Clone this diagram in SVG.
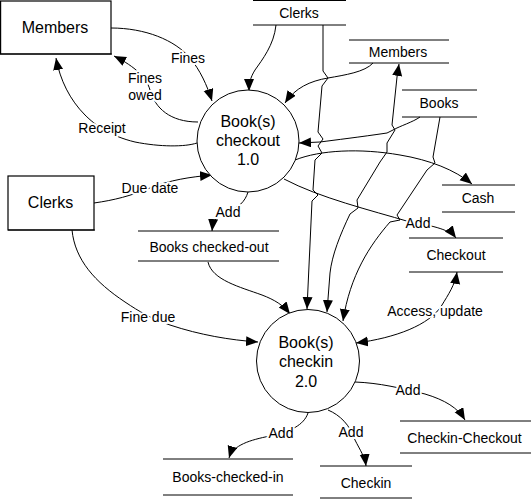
<svg xmlns="http://www.w3.org/2000/svg" width="532" height="499" viewBox="0 0 532 499">
<style>
text{font-family:"Liberation Sans",Arial,sans-serif;fill:#000;text-anchor:middle}
.n{font-size:16px}
.s{font-size:14px}
.l{font-size:14px;stroke:#fff;stroke-width:4;paint-order:stroke;stroke-linejoin:round}
.box{fill:#fff;stroke:#000;stroke-width:1.2}
.circ{fill:#fff;stroke:#000;stroke-width:1}
.st{stroke:#000;stroke-width:1}
.c{fill:none;stroke:#000;stroke-width:1}
.a{marker-end:url(#ah)}
.b{marker-start:url(#ah);marker-end:url(#ah)}
</style>
<defs>
<marker id="ah" markerUnits="userSpaceOnUse" markerWidth="13" markerHeight="11" refX="12" refY="5" orient="auto-start-reverse">
<path d="M0,0 L12,5 L0,10 z" fill="#000"/>
</marker>
</defs>
<g id="connectors">
<path class="c a" d="M111,28 C145,28 175,40 190,58 C200,70 207,85 212,101"/>
<path class="c a" d="M198,122 C170,122 155,108 150,90 C146,75 130,64 114,56"/>
<path class="c a" d="M197,143 C185,147 160,147 135,142 C110,136 95,125 85,115 C70,100 60,80 56,58"/>
<path class="c a" d="M94,203 C115,200 130,196 150,188 C170,180 190,177 212,175"/>
<path class="c a" d="M248,192 C245,202 238,208 228,211 C218,214 213,220 212,231"/>
<path class="c a" d="M208,262 C212,280 240,287 262,295 C275,300 283,305 290,314"/>
<path class="c a" d="M72,230 C75,260 95,282 125,302 C140,312 150,318 170,325 C200,335 230,340 258,342"/>
<path class="c a" d="M276,25 C274,45 262,60 255,70 C250,78 249,84 249,91"/>
<path class="c a" d="M323,25 L323,71 L328,78 L322,86 L318,132 L323,139 L318,146 L322,153 L315,160 L313,190 L318,195 L312,201 L307,309"/>
<path class="c a" d="M373,63 C365,72 345,75 328,78 C310,81 295,88 285,103"/>
<path class="c a" d="M420,117 C413,122 400,126 393,130 L387,133 C360,137 335,140 320,142 L299,143"/>
<path class="c a" d="M295,160 C320,150 360,148 400,155 C430,160 455,170 472,184"/>
<path class="c a" d="M284,179 C320,198 370,210 410,222 C435,226 450,230 456,238"/>
<path class="c b" d="M399,64 L397,77 L392,125 L395,130 L387,143 L387,152 L380,162 L357,200 L358,208 L350,214 C340,235 332,255 330,273 L327,312"/>
<path class="c a" d="M440,117 L433,157 L435,163 L427,170 L407,200 L397,215 L400,220 L390,222 C370,245 350,275 343,321"/>
<path class="c b" d="M457,272 C455,285 448,295 442,305 C430,325 395,338 356,343"/>
<path class="c a" d="M355,382 C380,383 400,388 425,394 C445,400 458,408 465,420"/>
<path class="c a" d="M308,413 C304,425 290,432 270,436 C250,440 233,445 229,458"/>
<path class="c a" d="M328,410 C340,415 350,425 355,440 C360,450 365,457 366,466"/>
<text class="l" x="188" y="63">Fines</text>
<text class="l" x="145" y="83">Fines</text>
<text class="l" x="145" y="100">owed</text>
<text class="l" x="102" y="133">Receipt</text>
<text class="l" x="150" y="193">Due date</text>
<text class="l" x="228" y="217">Add</text>
<text class="l" x="148" y="322">Fine due</text>
<text class="l" x="418" y="228">Add</text>
<text class="l" x="435" y="316">Access, update</text>
<text class="l" x="408" y="395">Add</text>
<text class="l" x="281" y="438">Add</text>
<text class="l" x="351" y="437">Add</text>
</g>
<g id="members-entity">
<rect class="box" x="0.6" y="1" width="110.4" height="53"/>
<line class="st" x1="0" y1="54" x2="112" y2="54" stroke-width="2"/>
<text class="n" x="55" y="33">Members</text>
</g>
<g id="clerks-entity">
<rect class="box" x="8" y="176" width="86" height="54"/>
<line class="st" x1="8" y1="230" x2="95" y2="230" stroke-width="2"/>
<text class="n" x="50.5" y="208">Clerks</text>
</g>
<g id="checkout-process">
<circle class="circ" cx="248" cy="141" r="51"/>
<text class="n" x="248" y="127">Book(s)</text>
<text class="n" x="248" y="146">checkout</text>
<text class="n" x="248" y="165">1.0</text>
</g>
<g id="checkin-process">
<circle class="circ" cx="308" cy="361" r="51.5"/>
<text class="n" x="306" y="348">Book(s)</text>
<text class="n" x="306" y="367">checkin</text>
<text class="n" x="306" y="387">2.0</text>
</g>
<g id="store-clerks">
<line class="st" x1="253" y1="0.5" x2="346" y2="0.5"/>
<line class="st" x1="253" y1="25" x2="346" y2="25"/>
<text class="s" x="299" y="18">Clerks</text>
</g>
<g id="store-members">
<line class="st" x1="349" y1="40" x2="449" y2="40"/>
<line class="st" x1="349" y1="63" x2="449" y2="63"/>
<text class="s" x="398" y="57">Members</text>
</g>
<g id="store-books">
<line class="st" x1="402" y1="90" x2="477" y2="90"/>
<line class="st" x1="402" y1="117" x2="477" y2="117"/>
<text class="s" x="439" y="108">Books</text>
</g>
<g id="store-cash">
<line class="st" x1="442" y1="185" x2="515" y2="185"/>
<line class="st" x1="442" y1="212" x2="515" y2="212"/>
<text class="s" x="478" y="203">Cash</text>
</g>
<g id="store-checkout">
<line class="st" x1="409" y1="238" x2="503" y2="238"/>
<line class="st" x1="409" y1="272" x2="503" y2="272"/>
<text class="s" x="456" y="260">Checkout</text>
</g>
<g id="store-books-checked-out">
<line class="st" x1="138" y1="231" x2="279" y2="231"/>
<line class="st" x1="138" y1="261" x2="279" y2="261"/>
<text class="s" x="209" y="252">Books checked-out</text>
</g>
<g id="store-checkin-checkout">
<line class="st" x1="400" y1="421" x2="531" y2="421"/>
<line class="st" x1="400" y1="453" x2="531" y2="453"/>
<text class="s" x="464.5" y="443">Checkin-Checkout</text>
</g>
<g id="store-books-checked-in">
<line class="st" x1="163" y1="459" x2="293" y2="459"/>
<line class="st" x1="163" y1="495" x2="293" y2="495"/>
<text class="s" x="228" y="482">Books-checked-in</text>
</g>
<g id="store-checkin">
<line class="st" x1="320" y1="466" x2="412" y2="466"/>
<line class="st" x1="320" y1="498" x2="412" y2="498"/>
<text class="s" x="366" y="488">Checkin</text>
</g>
</svg>
